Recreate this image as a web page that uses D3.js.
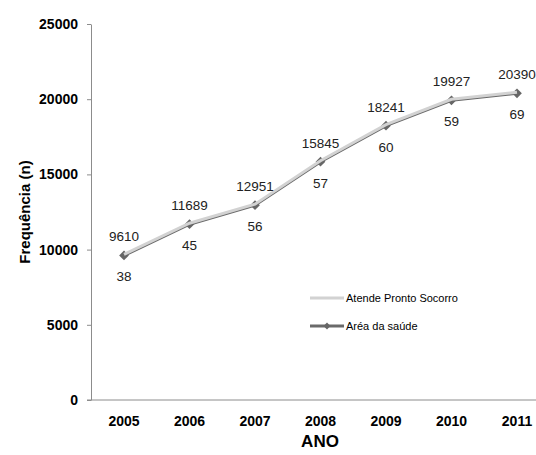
<!DOCTYPE html>
<html>
<head>
<meta charset="utf-8">
<script src="https://cdn.jsdelivr.net/npm/d3@7"></script>
<style>
  body { margin: 0; background: #fff; }
  svg { display: block; }
</style>
</head>
<body>
<div id="chart"></div>
<script>
const years = ['2005', '2006', '2007', '2008', '2009', '2010', '2011'];
const atende = [9610, 11689, 12951, 15845, 18241, 19927, 20390];
const areaSaude = [38, 45, 56, 57, 60, 59, 69];
const yTicks = [0, 5000, 10000, 15000, 20000, 25000];
const seriesNames = ['Atende Pronto Socorro', 'Aréa da saúde'];

const width = 536, height = 455;
const svg = d3.select('#chart').append('svg')
    .attr('width', width)
    .attr('height', height);

const x = d3.scalePoint()
    .domain(years)
    .range([124, 517]);

const y = d3.scaleLinear()
    .domain([0, 25000])
    .range([400, 24]);

const font = 'Liberation Sans, Arial, sans-serif';

// y axis
const yAxis = svg.append('g')
    .attr('transform', 'translate(91,0)')
    .call(d3.axisLeft(y).tickValues(yTicks).tickFormat(d3.format('d'))
        .tickSize(4).tickSizeOuter(0).tickPadding(9));
yAxis.select('.domain').attr('stroke', '#8c8c8c');
yAxis.selectAll('.tick line').attr('stroke', '#8c8c8c');
yAxis.selectAll('.tick text')
    .attr('font-family', font)
    .attr('font-weight', 'bold')
    .attr('font-size', 14)
    .attr('fill', '#000');

// x axis
svg.append('line')
    .attr('x1', 87).attr('x2', width)
    .attr('y1', y(0)).attr('y2', y(0))
    .attr('stroke', '#8c8c8c');
svg.append('g').selectAll('text')
    .data(years)
    .join('text')
    .attr('x', d => x(d))
    .attr('y', 426)
    .attr('text-anchor', 'middle')
    .attr('font-family', font)
    .attr('font-weight', 'bold')
    .attr('font-size', 14)
    .text(d => d);

// titles
svg.append('text')
    .attr('transform', 'translate(30,212) rotate(-90)')
    .attr('text-anchor', 'middle')
    .attr('font-family', font)
    .attr('font-weight', 'bold')
    .attr('font-size', 15)
    .text('Frequência (n)');
svg.append('text')
    .attr('x', 320)
    .attr('y', 447)
    .attr('text-anchor', 'middle')
    .attr('font-family', font)
    .attr('font-weight', 'bold')
    .attr('font-size', 17)
    .text('ANO');

const line = d3.line()
    .x((d, i) => x(years[i]))
    .y(d => y(d));

const diamond = d3.symbol().type(d3.symbolDiamond2).size(60);

// dark series with diamonds (underneath)
svg.append('path')
    .datum(atende)
    .attr('d', line)
    .attr('fill', 'none')
    .attr('stroke', '#6a6a6a')
    .attr('stroke-width', 3);
svg.append('g').selectAll('path')
    .data(atende)
    .join('path')
    .attr('transform', (d, i) => `translate(${x(years[i])},${y(d)})`)
    .attr('d', diamond)
    .attr('fill', '#666');

// light series on top
svg.append('path')
    .datum(atende)
    .attr('d', line)
    .attr('transform', 'translate(0,-1)')
    .attr('fill', 'none')
    .attr('stroke', '#d2d2d2')
    .attr('stroke-width', 3);

// labels
svg.append('g').selectAll('text')
    .data(atende)
    .join('text')
    .attr('x', (d, i) => x(years[i]))
    .attr('y', d => y(d) - 14)
    .attr('text-anchor', 'middle')
    .attr('font-family', font)
    .attr('font-size', 13.5)
    .attr('fill', '#222')
    .text(d => d);
svg.append('g').selectAll('text')
    .data(areaSaude)
    .join('text')
    .attr('x', (d, i) => x(years[i]))
    .attr('y', (d, i) => y(atende[i]) + 26)
    .attr('text-anchor', 'middle')
    .attr('font-family', font)
    .attr('font-size', 13.5)
    .attr('fill', '#222')
    .text(d => d);

// legend
const lg = svg.append('g').attr('transform', 'translate(310,298)');
lg.append('line')
    .attr('x1', 0).attr('x2', 34)
    .attr('stroke', '#d2d2d2').attr('stroke-width', 3);
lg.append('text')
    .attr('x', 36).attr('y', 4)
    .attr('font-family', font)
    .attr('font-size', 11)
    .text(seriesNames[0]);
const lg2 = svg.append('g').attr('transform', 'translate(310,326)');
lg2.append('line')
    .attr('x1', 0).attr('x2', 34)
    .attr('stroke', '#6a6a6a').attr('stroke-width', 3);
lg2.append('path')
    .attr('transform', 'translate(17,0)')
    .attr('d', d3.symbol().type(d3.symbolDiamond2).size(30))
    .attr('fill', '#666');
lg2.append('text')
    .attr('x', 36).attr('y', 4)
    .attr('font-family', font)
    .attr('font-size', 11)
    .text(seriesNames[1]);
</script>
</body>
</html>
